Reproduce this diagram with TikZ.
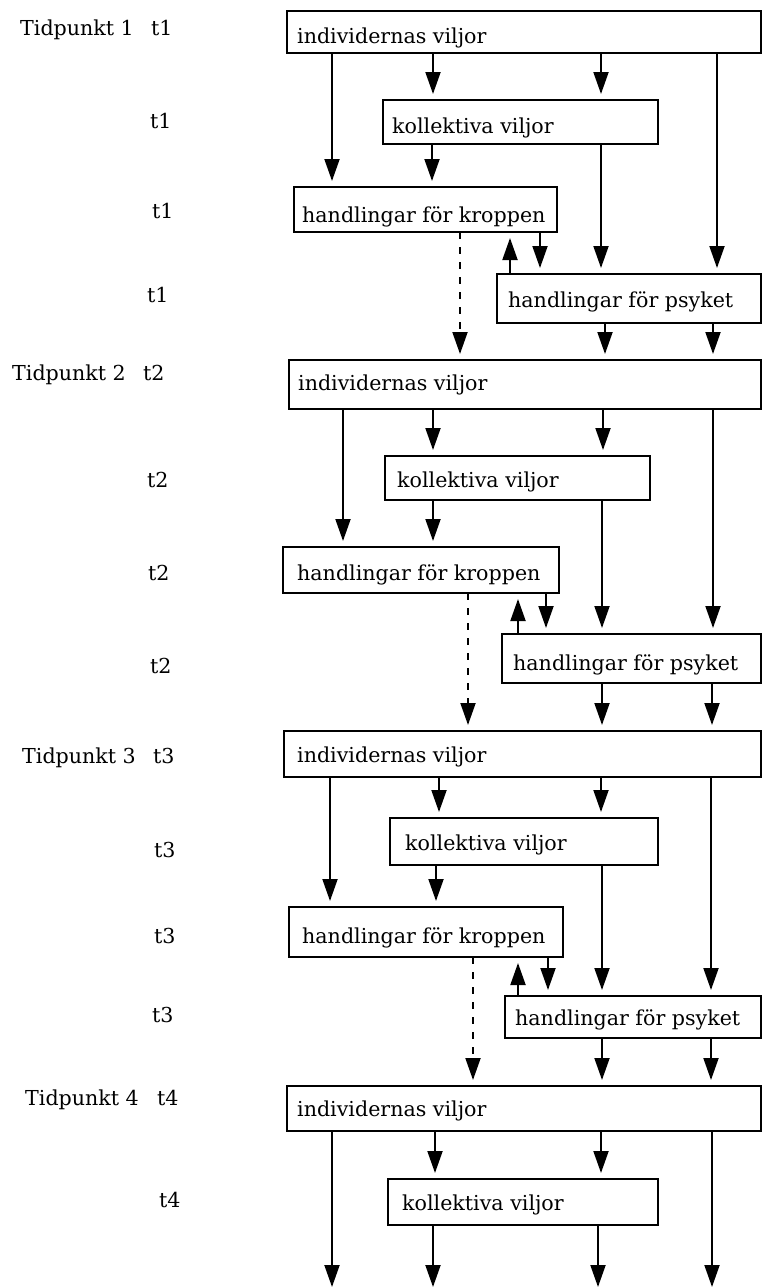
\documentclass[tikz,border=0pt]{standalone}
\usepackage{fontspec}
\setmainfont{DejaVu Serif}
\usetikzlibrary{arrows.meta}
\tikzset{
  box/.style={draw=black, line width=1.7pt, inner sep=0pt, outer sep=0pt, fill=white},
  txt/.style={inner sep=0pt, font=\fontsize{20.6}{23}\selectfont},
  arr/.style={line width=1.9pt, shorten >=6pt, -{Triangle[width=15pt,length=22pt]}},
  dasharr/.style={arr, dash pattern=on 7pt off 8pt},
}
\newcommand\mybox[8]{%
  \node[box, minimum width={(#4-#2)*1pt}, minimum height={(#5-#3)*1pt}, anchor=north west] (#1) at (#2,#3) {};
  \node[txt, anchor=base west] (#1t) at (#6,#7) {#8};}
\begin{document}
\begin{tikzpicture}[x=1pt,y=-1pt]
\fill[white] (0,0) rectangle (762,1288);
\useasboundingbox (0,0) rectangle (762,1288);

% left labels
\node[txt, anchor=base west] (T1) at (20,35) {Tidpunkt 1};
\node[txt, anchor=base west] (T1b) at (151,35) {t1};
\node[txt, anchor=base west] (T1c) at (150,128) {t1};
\node[txt, anchor=base west] (T1d) at (152,218) {t1};
\node[txt, anchor=base west] (T1e) at (147,302) {t1};

\node[txt, anchor=base west] (T2) at (12,380) {Tidpunkt 2};
\node[txt, anchor=base west] (T2b) at (143,380) {t2};
\node[txt, anchor=base west] (T2c) at (147,487) {t2};
\node[txt, anchor=base west] (T2d) at (148,580) {t2};
\node[txt, anchor=base west] (T2e) at (150,673) {t2};

\node[txt, anchor=base west] (T3) at (22,763) {Tidpunkt 3};
\node[txt, anchor=base west] (T3b) at (153,763) {t3};
\node[txt, anchor=base west] (T3c) at (154,857) {t3};
\node[txt, anchor=base west] (T3d) at (154,943) {t3};
\node[txt, anchor=base west] (T3e) at (152,1022) {t3};

\node[txt, anchor=base west] (T4) at (25,1105) {Tidpunkt 4};
\node[txt, anchor=base west] (T4b) at (157,1105) {t4};
\node[txt, anchor=base west] (T4c) at (159,1207) {t4};

% section 1
\mybox{I1}{287}{11}{761}{53}{297}{43}{individernas viljor}
\mybox{K1}{383}{100}{658}{144}{392}{133}{kollektiva viljor}
\mybox{H1}{294}{187}{557}{232}{302}{222}{handlingar för kroppen}
\mybox{P1}{497}{274}{761}{323}{508}{307}{handlingar för psyket}
% section 2
\mybox{I2}{289}{360}{761}{409}{298}{390}{individernas viljor}
\mybox{K2}{385}{456}{650}{500}{397}{487}{kollektiva viljor}
\mybox{H2}{283}{547}{559}{593}{297}{580}{handlingar för kroppen}
\mybox{P2}{502}{634}{761}{683}{513}{670}{handlingar för psyket}
% section 3
\mybox{I3}{284}{731}{761}{777}{297}{762}{individernas viljor}
\mybox{K3}{390}{818}{658}{865}{405}{850}{kollektiva viljor}
\mybox{H3}{289}{907}{563}{957}{302}{943}{handlingar för kroppen}
\mybox{P3}{505}{996}{761}{1038}{515}{1025}{handlingar för psyket}
% section 4
\mybox{I4}{287}{1086}{761}{1131}{297}{1116}{individernas viljor}
\mybox{K4}{388}{1179}{658}{1225}{402}{1210}{kollektiva viljor}

% bottom free ends
\coordinate (E1) at (332,1293);
\coordinate (E2) at (433,1293);
\coordinate (E3) at (598,1293);
\coordinate (E4) at (712,1293);

% connectors section 1
\draw[arr] (I1.south -| 332,0) -- (H1.north -| 332,0);
\draw[arr] (I1.south -| 433,0) -- (K1.north -| 433,0);
\draw[arr] (I1.south -| 601,0) -- (K1.north -| 601,0);
\draw[arr] (I1.south -| 717,0) -- (P1.north -| 717,0);
\draw[arr] (K1.south -| 432,0) -- (H1.north -| 432,0);
\draw[arr] (K1.south -| 601,0) -- (P1.north -| 601,0);
\draw[dasharr] (H1.south -| 460,0) -- (I2.north -| 460,0);
\draw[arr] (H1.south -| 540,0) -- (P1.north -| 540,0);
\draw[arr] (P1.north -| 510,0) -- (H1.south -| 510,0);
\draw[arr] (P1.south -| 605,0) -- (I2.north -| 605,0);
\draw[arr] (P1.south -| 713,0) -- (I2.north -| 713,0);

% connectors section 2
\draw[arr] (I2.south -| 343,0) -- (H2.north -| 343,0);
\draw[arr] (I2.south -| 433,0) -- (K2.north -| 433,0);
\draw[arr] (I2.south -| 603,0) -- (K2.north -| 603,0);
\draw[arr] (I2.south -| 713,0) -- (P2.north -| 713,0);
\draw[arr] (K2.south -| 433,0) -- (H2.north -| 433,0);
\draw[arr] (K2.south -| 602,0) -- (P2.north -| 602,0);
\draw[dasharr] (H2.south -| 468,0) -- (I3.north -| 468,0);
\draw[arr] (H2.south -| 546,0) -- (P2.north -| 546,0);
\draw[arr] (P2.north -| 518,0) -- (H2.south -| 518,0);
\draw[arr] (P2.south -| 602,0) -- (I3.north -| 602,0);
\draw[arr] (P2.south -| 712,0) -- (I3.north -| 712,0);

% connectors section 3
\draw[arr] (I3.south -| 330,0) -- (H3.north -| 330,0);
\draw[arr] (I3.south -| 439,0) -- (K3.north -| 439,0);
\draw[arr] (I3.south -| 601,0) -- (K3.north -| 601,0);
\draw[arr] (I3.south -| 711,0) -- (P3.north -| 711,0);
\draw[arr] (K3.south -| 436,0) -- (H3.north -| 436,0);
\draw[arr] (K3.south -| 602,0) -- (P3.north -| 602,0);
\draw[dasharr] (H3.south -| 473,0) -- (I4.north -| 473,0);
\draw[arr] (H3.south -| 548,0) -- (P3.north -| 548,0);
\draw[arr] (P3.north -| 518,0) -- (H3.south -| 518,0);
\draw[arr] (P3.south -| 602,0) -- (I4.north -| 602,0);
\draw[arr] (P3.south -| 711,0) -- (I4.north -| 711,0);

% connectors section 4
\draw[arr] (I4.south -| 332,0) -- (E1);
\draw[arr] (I4.south -| 435,0) -- (K4.north -| 435,0);
\draw[arr] (I4.south -| 601,0) -- (K4.north -| 601,0);
\draw[arr] (I4.south -| 712,0) -- (E4);
\draw[arr] (K4.south -| 433,0) -- (E2);
\draw[arr] (K4.south -| 598,0) -- (E3);
\end{tikzpicture}
\end{document}
